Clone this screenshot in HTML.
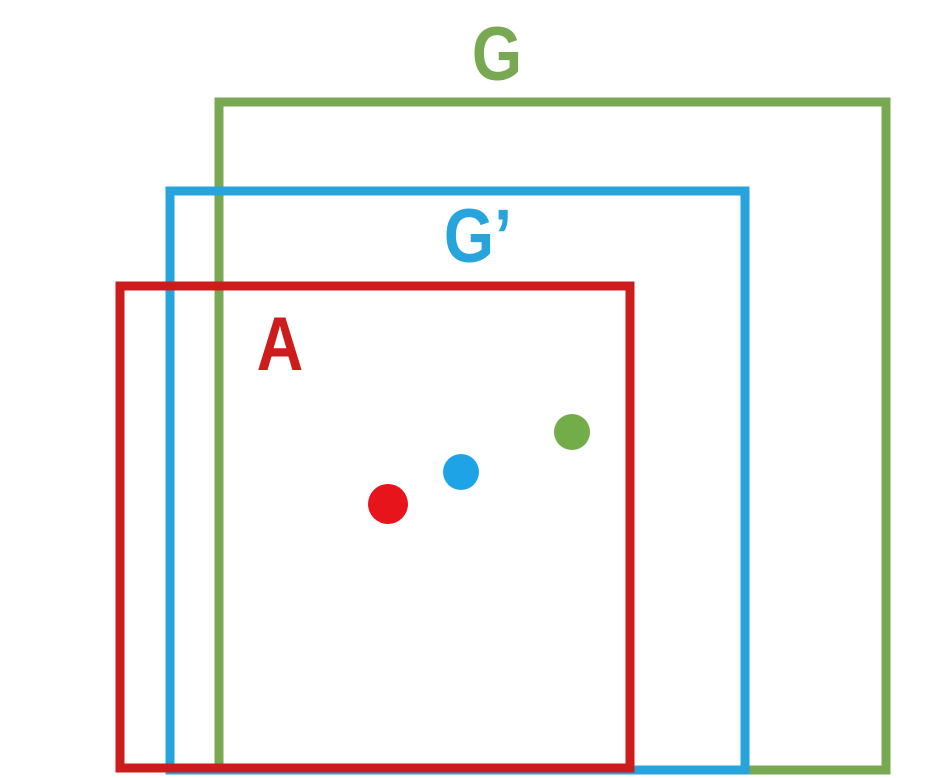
<!DOCTYPE html>
<html><head><meta charset="utf-8"><style>
html,body{margin:0;padding:0;background:#fff;}
svg{display:block;}
text{font-family:"Liberation Sans",sans-serif;}
</style></head><body>
<svg id="chart" width="946" height="778" viewBox="0 0 946 778" xmlns="http://www.w3.org/2000/svg"></svg>
<script>
const boxNames=['G','G\u2019','A'];
const boxLeft=[219,170,120];
const boxTop=[102,191,286];
const boxRight=[886,745,630];
const boxBottom=[770,770,768];
const boxColors=['#78a852','#27a4dc','#cc1c1c'];
const labelX=[497,478,280];
const labelY=[80,262,370];
const dotX=[572,461,388];
const dotY=[432,472,504];
const dotR=[18,18,20];
const dotColors=['#72ad4a','#1ea4e6','#e8141c'];
const ns='http://www.w3.org/2000/svg';
const svg=document.getElementById('chart');
for(let i=0;i<boxNames.length;i++){
  const r=document.createElementNS(ns,'rect');
  r.setAttribute('x',boxLeft[i]);r.setAttribute('y',boxTop[i]);
  r.setAttribute('width',boxRight[i]-boxLeft[i]);r.setAttribute('height',boxBottom[i]-boxTop[i]);
  r.setAttribute('fill','none');r.setAttribute('stroke',boxColors[i]);r.setAttribute('stroke-width',9);
  
  
  svg.appendChild(r);
  const t=document.createElementNS(ns,'text');
  t.setAttribute('x',0);t.setAttribute('y',0);
  t.setAttribute('transform','translate('+labelX[i]+','+labelY[i]+') scale(0.85,1)');
  t.setAttribute('text-anchor','middle');t.setAttribute('font-size',76);
  t.setAttribute('font-weight','bold');
  t.setAttribute('fill',boxColors[i]);
  t.textContent=boxNames[i];
  
  
  svg.appendChild(t);
}
for(let i=0;i<dotX.length;i++){
  const c=document.createElementNS(ns,'circle');
  c.setAttribute('cx',dotX[i]);c.setAttribute('cy',dotY[i]);c.setAttribute('r',dotR[i]);
  c.setAttribute('fill',dotColors[i]);
  
  
  svg.appendChild(c);
}
</script>
</body></html>
